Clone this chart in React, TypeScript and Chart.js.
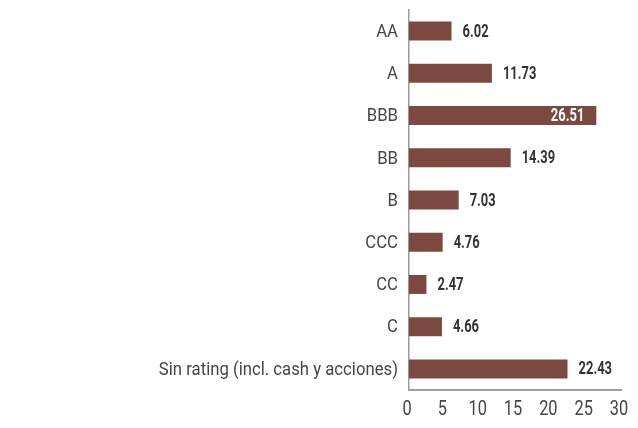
import React, { useEffect, useRef } from "react";
import { Chart, registerables } from "chart.js";

Chart.register(...registerables);

const categories = ["AA", "A", "BBB", "BB", "B", "CCC", "CC", "C", "Sin rating (incl. cash y acciones)"];
const values = [6.02, 11.73, 26.51, 14.39, 7.03, 4.76, 2.47, 4.66, 22.43];
const xTicks = [0, 5, 10, 15, 20, 25, 30];
const insideLabels = ["BBB"];

const FONT = "Roboto, 'DejaVu Sans', sans-serif";

function drawCondensed(ctx: any, text: string, x: number, y: number, sx: number, align: string) {
  ctx.save();
  ctx.translate(x, y);
  ctx.scale(sx, 1);
  ctx.textAlign = align;
  ctx.fillText(text, 0, 0);
  ctx.restore();
}

const textPlugin = {
  id: "condensedText",
  afterDraw(chart: any) {
    const ctx = chart.ctx;
    const meta = chart.getDatasetMeta(0);
    const xs = chart.scales.x;
    const ys = chart.scales.y;
    ctx.save();
    ctx.textBaseline = "middle";

    // category labels
    ctx.font = `19px ${FONT}`;
    ctx.fillStyle = "#454545";
    categories.forEach((c, i) => {
      drawCondensed(ctx, c, ys.right - 11, ys.getPixelForValue(i) + 1, 0.88, "right");
    });

    // x tick labels
    ctx.font = `21px ${FONT}`;
    ctx.fillStyle = "#454545";
    xTicks.forEach((v) => {
      drawCondensed(ctx, String(v), xs.getPixelForValue(v) - 2, xs.top + 20, 0.78, "center");
    });

    // value labels
    ctx.font = `bold 18px ${FONT}`;
    meta.data.forEach((bar: any, i: number) => {
      const txt = values[i].toFixed(2);
      if (insideLabels.includes(categories[i])) {
        ctx.fillStyle = "#ffffff";
        drawCondensed(ctx, txt, bar.x - 12, bar.y + 1, 0.72, "right");
      } else {
        ctx.fillStyle = "#333333";
        drawCondensed(ctx, txt, bar.x + 11, bar.y + 1, 0.72, "left");
      }
    });
    ctx.restore();
  },
};

export default function App() {
  const ref = useRef<HTMLCanvasElement>(null);
  useEffect(() => {
    document.body.style.margin = "0";
    const chart = new Chart(ref.current!, {
      type: "bar",
      data: {
        labels: categories,
        datasets: [
          {
            data: values,
            backgroundColor: "#7b4940",
            barPercentage: 0.45,
            categoryPercentage: 1,
          },
        ],
      },
      options: {
        indexAxis: "y",
        animation: false,
        responsive: false,
        maintainAspectRatio: false,
        layout: { padding: { top: 10, right: 17, left: 0, bottom: 0 } },
        plugins: { legend: { display: false }, tooltip: { enabled: false } },
        scales: {
          x: {
            min: 0,
            max: 30,
            afterBuildTicks: (s: any) => {
              s.ticks = xTicks.map((v) => ({ value: v }));
            },
            afterFit: (s: any) => {
              s.height = 38;
            },
            grid: { display: false, drawTicks: false },
            border: { display: true, color: "#a0a0a0", width: 2 },
            ticks: { display: false },
          },
          y: {
            afterFit: (s: any) => {
              s.width = 409;
            },
            grid: { display: false, drawTicks: false },
            border: { display: true, color: "#9a9a9a", width: 1.5 },
            ticks: { display: false },
          },
        },
      },
      plugins: [textPlugin],
    });
    return () => chart.destroy();
  }, []);
  return (
    <div style={{ position: "fixed", left: 0, top: 0, width: 638, height: 428, background: "#fff" }}>
      <canvas ref={ref} width={638} height={428} />
    </div>
  );
}
